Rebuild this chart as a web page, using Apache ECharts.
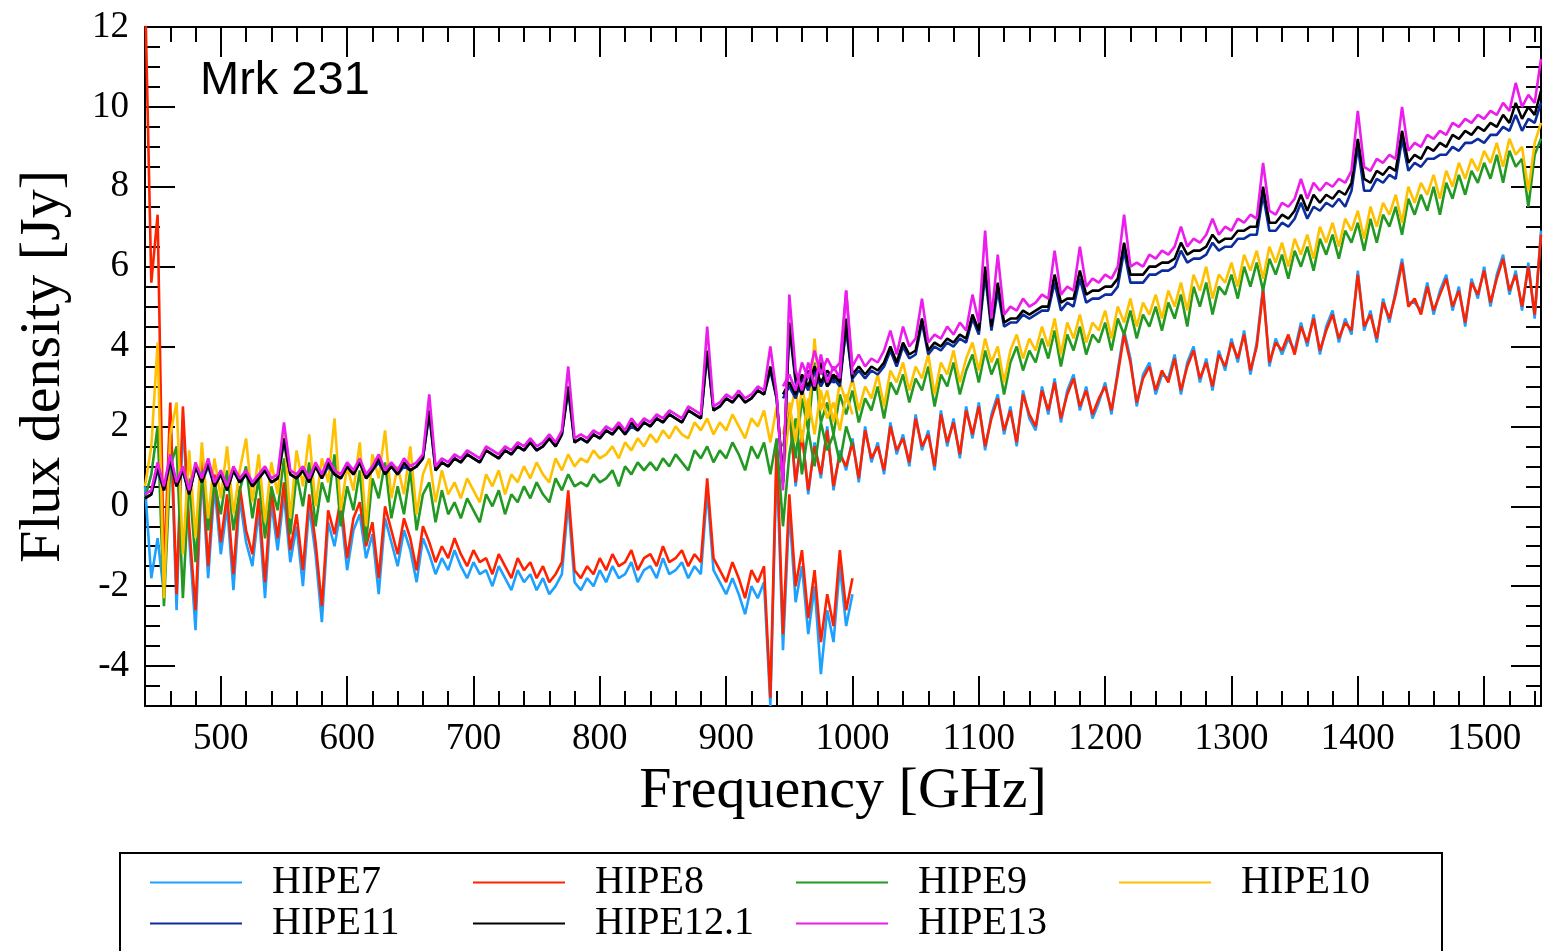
<!DOCTYPE html>
<html><head><meta charset="utf-8">
<script src="https://cdn.jsdelivr.net/npm/echarts@6/dist/echarts.min.js"></script>
<style>html,body{margin:0;padding:0;background:#fff}#c{width:1543px;height:951px}</style>
</head><body><div id="c"></div>
<script>
// ---- frequency grids (GHz) ----
const freqSLW = [
440,445,450,455,460,465,470,475,480,485,
490,495,500,505,510,515,520,525,530,535,
540,545,550,555,560,565,570,575,580,585,
590,595,600,605,610,615,620,625,630,635,
640,645,650,655,660,665,670,675,680,685,
690,695,700,705,710,715,720,725,730,735,
740,745,750,755,760,765,770,775,780,785,
790,795,800,805,810,815,820,825,830,835,
840,845,850,855,860,865,870,875,880,885,
890,895,900,905,910,915,920,925,930,935,
940,945,950,955,960,965,970,975,980,985,
990,995,1000];
const freqSSW = [
945,950,955,960,965,970,975,980,985,990,
995,1000,1005,1010,1015,1020,1025,1030,1035,1040,
1045,1050,1055,1060,1065,1070,1075,1080,1085,1090,
1095,1100,1105,1110,1115,1120,1125,1130,1135,1140,
1145,1150,1155,1160,1165,1170,1175,1180,1185,1190,
1195,1200,1205,1210,1215,1220,1225,1230,1235,1240,
1245,1250,1255,1260,1265,1270,1275,1280,1285,1290,
1295,1300,1305,1310,1315,1320,1325,1330,1335,1340,
1345,1350,1355,1360,1365,1370,1375,1380,1385,1390,
1395,1400,1405,1410,1415,1420,1425,1430,1435,1440,
1445,1450,1455,1460,1465,1470,1475,1480,1485,1490,
1495,1500,1505,1510,1515,1520,1525,1530,1535,1540,
1545];

// ---- HIPE7 ----
const hipe7SLW = [
0.5,-1.8,-0.8,-2.2,2.3,-2.6,2.2,-0.8,-3.1,0.9,
-1.8,0.5,-1.2,0.0,-2.1,0.2,-0.9,-1.5,-0.1,-2.3,
0.1,-1.1,0.3,-1.4,-0.5,-2.0,0.0,-1.2,-2.9,-0.4,
-1.0,-0.1,-1.6,-0.6,-0.2,-1.3,-0.7,-2.2,-0.3,-0.9,
-1.5,-0.6,-1.1,-1.9,-0.8,-1.2,-1.7,-1.3,-1.6,-1.1,
-1.5,-1.8,-1.4,-1.7,-1.6,-2.0,-1.5,-1.8,-2.1,-1.6,
-1.9,-1.7,-2.1,-1.8,-2.2,-2.0,-1.7,0.1,-1.9,-2.1,
-1.8,-2.0,-1.6,-1.9,-1.5,-1.8,-1.7,-1.4,-1.9,-1.6,
-1.5,-1.8,-1.3,-1.7,-1.6,-1.4,-1.8,-1.5,-1.7,0.4,
-1.6,-1.9,-2.2,-1.8,-2.2,-2.7,-2.0,-2.3,-1.9,-5.0,
1.2,-3.6,-0.1,-2.4,-1.5,-3.2,-2.0,-4.2,-2.6,-3.4,
-1.5,-3.0,-2.2];
const hipe7SSW = [
0.9,2.5,0.5,1.9,0.3,1.6,0.7,2.0,0.4,1.4,
0.9,1.7,0.6,2.0,1.1,1.6,0.8,2.1,1.3,1.8,
1.0,2.3,1.4,1.9,0.9,2.4,1.5,2.2,1.2,2.5,
1.7,2.6,1.4,2.3,2.8,1.8,2.5,1.5,2.9,2.2,
1.9,3.0,2.3,3.2,2.1,2.9,3.3,2.4,3.0,2.2,
2.6,3.1,2.3,3.4,4.4,3.7,2.5,3.3,3.6,2.8,
3.3,3.2,3.8,2.8,3.6,4.0,3.1,3.7,2.9,3.9,
3.4,4.2,3.6,4.4,3.3,4.1,5.5,3.5,4.2,3.8,
4.2,3.9,4.6,4.0,4.8,3.8,4.5,4.9,4.1,4.7,
4.3,5.9,4.4,4.9,4.1,5.2,4.6,5.4,6.2,5.1,
5.1,4.9,5.6,4.8,5.4,5.8,4.9,5.5,4.5,5.7,
5.2,6.0,5.0,5.8,6.3,5.3,5.9,4.9,6.1,4.7,
6.9];

// ---- HIPE8 ----
const hipe8SLW = [
13,5.6,7.3,-1.8,2.6,-2.2,2.5,-0.5,-2.6,1.2,
-1.5,0.8,-0.9,0.3,-1.7,0.5,-0.6,-1.2,0.2,-1.9,
0.4,-0.8,0.6,-1.1,-0.2,-1.6,0.3,-0.9,-2.5,-0.1,
-0.7,0.2,-1.3,-0.3,0.1,-1.0,-0.4,-1.8,0.0,-0.6,
-1.2,-0.3,-0.8,-1.6,-0.5,-0.9,-1.4,-1.0,-1.3,-0.8,
-1.2,-1.5,-1.1,-1.4,-1.3,-1.7,-1.2,-1.5,-1.8,-1.3,
-1.6,-1.4,-1.8,-1.5,-1.9,-1.7,-1.4,0.4,-1.6,-1.8,
-1.5,-1.7,-1.3,-1.6,-1.2,-1.5,-1.4,-1.1,-1.6,-1.3,
-1.2,-1.5,-1.0,-1.4,-1.3,-1.1,-1.5,-1.2,-1.4,0.7,
-1.3,-1.6,-1.9,-1.4,-1.8,-2.3,-1.6,-1.9,-1.5,-4.8,
1.6,-3.2,0.3,-2.0,-1.1,-2.8,-1.6,-3.4,-2.2,-3.0,
-1.1,-2.6,-1.8];
const hipe8SSW = [
1.0,2.4,0.6,1.8,0.4,1.5,0.8,1.9,0.5,1.3,
1.0,1.6,0.7,1.9,1.2,1.5,0.9,2.0,1.4,1.7,
1.1,2.2,1.5,1.8,1.0,2.3,1.6,2.1,1.3,2.4,
1.8,2.5,1.5,2.2,2.7,1.9,2.4,1.6,2.8,2.3,
2.0,2.9,2.4,3.1,2.2,2.8,3.2,2.5,2.9,2.3,
2.7,3.0,2.4,3.3,4.3,3.6,2.6,3.2,3.5,2.9,
3.4,3.1,3.7,2.9,3.5,3.9,3.2,3.6,3.0,3.8,
3.5,4.1,3.7,4.3,3.4,4.0,5.4,3.6,4.1,3.9,
4.3,3.8,4.5,4.1,4.7,3.9,4.4,4.8,4.2,4.6,
4.4,5.8,4.5,4.8,4.2,5.1,4.7,5.3,6.1,5.0,
5.2,4.8,5.5,4.9,5.3,5.7,5.0,5.4,4.6,5.6,
5.3,5.9,5.1,5.7,6.2,5.4,5.8,5.0,6.0,4.8,
6.8];

// ---- HIPE9 ----
const hipe9SLW = [
0.2,0.8,2.0,-2.5,1.0,1.5,-2.3,0.7,-1.4,0.9,
-0.6,0.6,-0.2,0.9,-0.6,0.4,1.0,-0.3,0.7,-0.8,
0.5,-0.1,1.2,-0.7,0.8,0.0,1.1,-0.5,0.6,0.1,
1.3,-0.5,0.5,-0.1,0.9,-0.9,0.7,0.2,1.1,-0.3,
0.5,-0.2,0.9,-0.6,0.3,0.6,-0.4,0.4,-0.2,0.1,
-0.3,0.2,-0.1,-0.4,0.3,0.0,0.4,-0.2,0.3,0.1,
0.5,0.2,0.6,0.3,0.1,0.7,0.4,0.8,0.5,0.6,
0.5,0.8,0.6,0.7,0.9,0.5,1.0,0.8,1.1,0.9,
1.1,0.9,1.2,1.0,1.3,1.1,0.9,1.4,1.2,1.5,
1.1,1.4,1.2,1.6,1.3,0.9,1.5,1.2,1.6,0.8,
1.7,-0.5,1.3,2.2,0.8,1.9,1.0,2.1,1.4,1.8,
1.1,2.0,1.5];
const hipe9SSW = [
1.5,2.3,1.2,2.7,1.9,3.6,2.1,2.6,1.8,2.8,
2.3,2.9,2.1,2.7,2.4,3.0,2.2,3.1,2.8,3.3,
2.6,3.2,2.9,3.5,2.5,3.3,3.0,3.6,2.8,3.4,
3.8,3.1,3.9,3.3,3.7,2.8,3.6,4.0,3.4,3.9,
3.6,4.2,3.7,4.4,3.5,4.3,3.9,4.5,3.8,4.3,
4.1,4.6,3.9,4.7,4.3,4.9,4.2,4.8,4.5,5.0,
4.4,5.1,4.7,5.3,4.5,5.5,5.0,5.6,4.8,5.5,
5.3,5.8,5.2,6.0,5.5,6.1,5.4,6.2,5.8,6.3,
5.7,6.4,6.0,6.5,5.9,6.7,6.3,6.8,6.2,6.9,
6.6,7.1,6.4,7.2,6.6,7.3,7.0,7.5,6.8,7.7,
7.3,7.8,7.4,8.0,7.3,8.1,7.7,8.3,7.8,8.4,
8.1,8.6,8.2,8.8,8.1,8.9,8.5,8.7,7.5,8.8,
9.2];

// ---- HIPE10 ----
const hipe10SLW = [
0.5,1.5,4.1,-2.3,1.8,2.6,-1.2,1.4,-0.8,1.6,
-0.3,1.2,0.2,1.5,-0.2,0.9,1.7,0.1,1.3,-0.4,
1.1,0.3,1.9,-0.3,1.4,0.5,1.8,0.0,1.2,0.6,
2.2,-0.1,1.0,0.4,1.6,-0.5,1.3,0.7,1.9,0.2,
1.0,0.3,1.5,-0.2,0.8,1.2,0.1,0.9,0.3,0.6,
0.2,0.7,0.4,0.1,0.8,0.5,0.9,0.3,0.8,0.6,
1.0,0.7,1.1,0.8,0.6,1.2,0.9,1.3,1.0,1.2,
1.1,1.4,1.2,1.3,1.5,1.2,1.6,1.4,1.7,1.5,
1.8,1.6,1.9,1.7,2.0,1.8,1.7,2.1,1.9,2.2,
1.8,2.1,1.9,2.3,2.0,1.7,2.2,2.0,2.4,1.6,
2.5,0.8,2.2,3.0,1.6,2.7,1.8,2.9,2.2,2.6,
1.9,2.8,2.3];
const hipe10SSW = [
1.8,2.6,1.6,3.0,2.2,4.2,2.4,2.9,2.1,3.1,
2.6,3.2,2.4,3.0,2.7,3.3,2.5,3.4,3.1,3.6,
2.9,3.5,3.2,3.8,2.8,3.6,3.3,3.9,3.1,3.7,
4.1,3.4,4.2,3.6,4.0,3.1,3.9,4.3,3.7,4.2,
3.9,4.5,4.0,4.7,3.8,4.6,4.2,4.8,4.1,4.6,
4.4,4.9,4.2,5.0,4.6,5.2,4.5,5.1,4.8,5.3,
4.7,5.4,5.0,5.6,4.9,5.8,5.4,6.0,5.2,5.8,
5.6,6.1,5.5,6.3,5.9,6.4,5.7,6.5,6.1,6.6,
6.0,6.7,6.3,6.8,6.2,7.0,6.6,7.1,6.5,7.2,
6.9,7.4,6.7,7.5,7.0,7.6,7.3,7.8,7.1,8.0,
7.6,8.1,7.8,8.3,7.7,8.4,8.0,8.6,8.2,8.7,
8.4,8.9,8.6,9.1,8.5,9.2,8.8,9.0,7.9,9.1,
9.6];

// ---- HIPE11 ----
const hipe11SLW = [
0.2,0.3,0.9,0.4,1.1,0.5,0.9,0.3,1.0,0.6,
1.0,0.5,0.8,0.4,0.9,0.6,0.8,0.5,0.7,0.9,
0.6,0.7,1.6,0.8,0.7,0.9,0.6,1.0,0.7,1.0,
0.8,0.7,1.0,0.8,1.1,0.7,0.9,1.1,0.8,1.0,
0.8,1.0,0.9,1.0,1.2,2.3,0.9,1.1,1.0,1.2,
1.1,1.3,1.2,1.1,1.4,1.3,1.2,1.4,1.3,1.5,
1.4,1.6,1.4,1.5,1.7,1.5,1.8,2.9,1.6,1.7,
1.6,1.8,1.7,1.9,1.8,2.0,1.8,2.0,1.9,2.1,
2.0,2.2,2.1,2.3,2.2,2.1,2.4,2.3,2.2,3.8,
2.4,2.5,2.7,2.6,2.8,2.6,2.7,2.9,2.8,3.4,
2.7,0.6,4.5,3.1,2.8,3.3,2.9,3.5,3.0,3.2,
3.0,4.6,3.1];
const hipe11SSW = [
2.7,3.0,2.7,3.2,2.9,3.4,3.0,3.3,3.1,3.2,
4.4,3.2,3.4,3.2,3.4,3.3,3.5,3.9,3.5,4.0,
3.7,3.8,4.6,3.8,4.0,3.9,4.1,4.0,4.2,4.1,
4.7,4.3,5.8,4.4,5.4,4.5,4.6,4.6,4.8,4.7,
4.8,4.9,4.9,5.6,4.9,5.1,5.0,5.7,5.1,5.2,
5.2,5.3,5.3,5.5,6.4,5.6,5.6,5.6,5.8,5.8,
5.9,5.9,6.0,6.4,6.1,6.2,6.2,6.3,6.6,6.4,
6.5,6.5,6.7,6.7,6.8,6.8,7.8,6.9,6.9,7.1,
7.0,7.2,7.6,7.2,7.5,7.4,7.6,7.5,7.7,7.5,
7.9,9.0,7.9,7.9,8.2,8.1,8.3,8.2,9.2,8.4,
8.6,8.5,8.7,8.7,8.8,8.8,9.0,8.9,9.1,9.1,
9.2,9.1,9.3,9.3,9.5,9.4,9.8,9.4,9.7,9.6,
10.1];

// ---- HIPE12.1 ----
const hipe121SLW = [
0.2,0.3,1.0,0.4,1.2,0.5,0.9,0.3,1.0,0.6,
1.1,0.5,0.8,0.4,0.9,0.6,0.8,0.5,0.7,0.9,
0.6,0.7,1.7,0.8,0.7,0.9,0.6,1.0,0.7,1.1,
0.8,0.7,1.0,0.8,1.1,0.7,0.9,1.2,0.8,1.0,
0.8,1.1,0.9,1.0,1.2,2.4,0.9,1.1,1.0,1.2,
1.1,1.3,1.2,1.1,1.4,1.3,1.2,1.4,1.3,1.5,
1.4,1.6,1.4,1.5,1.7,1.5,1.8,3.0,1.6,1.7,
1.6,1.8,1.7,1.9,1.8,2.0,1.8,2.1,1.9,2.1,
2.0,2.2,2.1,2.3,2.2,2.1,2.4,2.3,2.2,3.9,
2.4,2.5,2.7,2.6,2.8,2.6,2.7,2.9,2.8,3.5,
2.7,0.6,4.6,3.2,2.8,3.4,2.9,3.6,3.0,3.3,
3.1,4.7,3.2];
const hipe121SSW = [
2.8,3.1,2.8,3.3,3.0,3.5,3.1,3.4,3.2,3.3,
4.6,3.3,3.5,3.3,3.5,3.4,3.6,4.0,3.6,4.1,
3.8,3.9,4.7,3.9,4.1,4.0,4.2,4.1,4.3,4.2,
4.8,4.4,6.0,4.5,5.6,4.6,4.7,4.7,4.9,4.8,
4.9,5.0,5.0,5.8,5.1,5.2,5.2,5.9,5.3,5.4,
5.4,5.5,5.5,5.7,6.6,5.8,5.8,5.8,6.0,6.0,
6.1,6.1,6.2,6.6,6.3,6.4,6.4,6.5,6.8,6.6,
6.7,6.7,6.9,6.9,7.0,7.0,8.0,7.1,7.1,7.3,
7.2,7.4,7.8,7.4,7.8,7.6,7.8,7.7,7.9,7.8,
8.1,9.2,8.2,8.1,8.4,8.3,8.5,8.4,9.4,8.6,
8.8,8.7,9.0,8.9,9.1,9.0,9.3,9.2,9.4,9.3,
9.5,9.4,9.6,9.5,9.8,9.6,10.1,9.7,10.0,9.8,
10.4];

// ---- HIPE13 ----
const hipe13SLW = [
0.3,0.4,1.1,0.5,1.3,0.6,1.0,0.4,1.1,0.7,
1.2,0.6,0.9,0.5,1.0,0.7,0.9,0.6,0.8,1.0,
0.7,0.8,2.1,0.9,0.8,1.0,0.7,1.1,0.8,1.2,
0.9,0.8,1.1,0.9,1.2,0.8,1.0,1.3,0.9,1.1,
0.9,1.2,1.0,1.1,1.3,2.8,1.0,1.2,1.1,1.3,
1.2,1.4,1.3,1.2,1.5,1.4,1.3,1.5,1.4,1.6,
1.5,1.7,1.5,1.6,1.8,1.6,1.9,3.5,1.7,1.8,
1.7,1.9,1.8,2.0,1.9,2.1,1.9,2.2,2.0,2.2,
2.1,2.3,2.2,2.4,2.3,2.2,2.5,2.4,2.3,4.5,
2.5,2.6,2.8,2.7,2.9,2.7,2.8,3.0,2.9,4.0,
2.8,0.4,5.3,3.4,2.9,3.6,3.0,3.8,3.1,3.5,
3.2,5.4,3.3];
const hipe13SSW = [
3.0,3.3,2.9,3.6,3.2,3.9,3.3,3.7,3.4,3.6,
5.4,3.5,3.8,3.5,3.7,3.6,3.9,4.4,3.8,4.5,
4.0,4.2,5.2,4.1,4.3,4.2,4.5,4.3,4.6,4.4,
5.3,4.6,6.9,4.7,6.3,4.8,5.0,4.9,5.2,5.0,
5.1,5.3,5.2,6.4,5.3,5.5,5.4,6.5,5.5,5.7,
5.6,5.8,5.7,6.0,7.3,6.0,6.1,6.0,6.3,6.2,
6.4,6.3,6.5,7.0,6.5,6.7,6.6,6.8,7.2,6.8,
7.0,6.9,7.2,7.1,7.3,7.2,8.6,7.4,7.3,7.6,
7.5,7.7,8.2,7.7,8.1,7.9,8.1,8.0,8.2,8.1,
8.4,9.9,8.5,8.4,8.7,8.6,8.8,8.7,10.0,8.9,
9.1,9.0,9.3,9.2,9.4,9.3,9.6,9.5,9.7,9.6,
9.8,9.7,9.9,9.8,10.1,9.9,10.6,10.0,10.3,10.1,
11.2];

// ---- names, colours, ticks ----
const seriesNames = ['HIPE7','HIPE8','HIPE9','HIPE10','HIPE11','HIPE12.1','HIPE13'];
const seriesColors = ['#1ea0ff','#ff2200','#229922','#ffc000','#0c2d9e','#000000','#ec1cec'];
const slwData = [hipe7SLW, hipe8SLW, hipe9SLW, hipe10SLW, hipe11SLW, hipe121SLW, hipe13SLW];
const sswData = [hipe7SSW, hipe8SSW, hipe9SSW, hipe10SSW, hipe11SSW, hipe121SSW, hipe13SSW];

const xMajorTicks = [500,600,700,800,900,1000,1100,1200,1300,1400,1500];
const xMinorTicks = [460,480,520,540,560,580,620,640,660,680,720,740,760,780,820,840,860,880,
  920,940,960,980,1020,1040,1060,1080,1120,1140,1160,1180,1220,1240,1260,1280,
  1320,1340,1360,1380,1420,1440,1460,1480,1520,1540];
const yMajorTicks = [-4,-2,0,2,4,6,8,10,12];
const yMinorTicks = [-4.5,-3.5,-3,-2.5,-1.5,-1,-0.5,0.5,1,1.5,2.5,3,3.5,4.5,5,5.5,6.5,7,7.5,8.5,9,9.5,10.5,11,11.5];

const X_MIN = 440, X_MAX = 1545, Y_MIN = -5, Y_MAX = 12;
const SERIF = 'Liberation Serif';

function pairs(f, v) { return f.map((x, i) => [x, v[i]]); }
const plain = v => String(v);

function xAx(pos, ticks, len, line, labels) {
  return {
    type: 'value', position: pos, min: X_MIN, max: X_MAX,
    axisLine: { show: line, onZero: false, lineStyle: { color: '#000', width: 2 } },
    axisTick: { show: true, inside: true, length: len, customValues: ticks, lineStyle: { color: '#000', width: 2 } },
    axisLabel: labels ? { show: true, customValues: xMajorTicks, formatter: plain, margin: 15, color: '#000', fontFamily: SERIF, fontSize: 37 } : { show: false },
    splitLine: { show: false }
  };
}
function yAx(pos, ticks, len, line, labels) {
  return {
    type: 'value', position: pos, min: Y_MIN, max: Y_MAX,
    axisLine: { show: line, onZero: false, lineStyle: { color: '#000', width: 2 } },
    axisTick: { show: true, inside: true, length: len, customValues: ticks, lineStyle: { color: '#000', width: 2 } },
    axisLabel: labels ? { show: true, customValues: yMajorTicks, formatter: plain, margin: 16, color: '#000', fontFamily: SERIF, fontSize: 37 } : { show: false },
    splitLine: { show: false }
  };
}

const xAxes = [
  xAx('bottom', xMajorTicks, 30, true, true),
  xAx('bottom', xMinorTicks, 15, false, false),
  xAx('top', xMajorTicks, 30, true, false),
  xAx('top', xMinorTicks, 15, false, false)
];
Object.assign(xAxes[0], { name: 'Frequency [GHz]', nameLocation: 'middle', nameGap: 51,
  nameTextStyle: { fontFamily: SERIF, fontSize: 58, color: '#000' } });
const yAxes = [
  yAx('left', yMajorTicks, 30, true, true),
  yAx('left', yMinorTicks, 15, false, false),
  yAx('right', yMajorTicks, 30, true, false),
  yAx('right', yMinorTicks, 15, false, false)
];
Object.assign(yAxes[0], { name: 'Flux density [Jy]', nameLocation: 'middle', nameGap: 72,
  nameTextStyle: { fontFamily: SERIF, fontSize: 58, color: '#000' } });

const series = [];
seriesNames.forEach((name, k) => {
  [[freqSLW, slwData[k]], [freqSSW, sswData[k]]].forEach(([f, v]) => {
    series.push({
      name: name, type: 'line', xAxisIndex: 0, yAxisIndex: 0,
      symbol: 'none', showSymbol: false, clip: true,
      color: seriesColors[k],
      lineStyle: { color: seriesColors[k], width: 2.6 },
      data: pairs(f, v)
    });
  });
});

const chart = echarts.init(document.getElementById('c'), null, { renderer: 'canvas' });
chart.setOption({
  animation: false,
  backgroundColor: '#fff',
  grid: { left: 145, top: 27, width: 1396, height: 679, containLabel: false },
  xAxis: xAxes,
  yAxis: yAxes,
  legend: {
    data: seriesNames, left: 120, top: 853, width: 1300, orient: 'horizontal',
    icon: 'rect', itemWidth: 92, itemHeight: 2, itemGap: 0,
    padding: [9, 0, 20, 30], borderColor: '#000', borderWidth: 2,
    selectedMode: false,
    textStyle: { fontFamily: SERIF, fontSize: 40, color: '#000', width: 201, lineHeight: 41, padding: [0, 0, 0, 25] }
  },
  graphic: [{
    type: 'text', left: 200, top: 58,
    style: { text: 'Mrk 231', font: '47px "Liberation Sans"', fill: '#000' }
  }],
  series: series
});
</script></body></html>
